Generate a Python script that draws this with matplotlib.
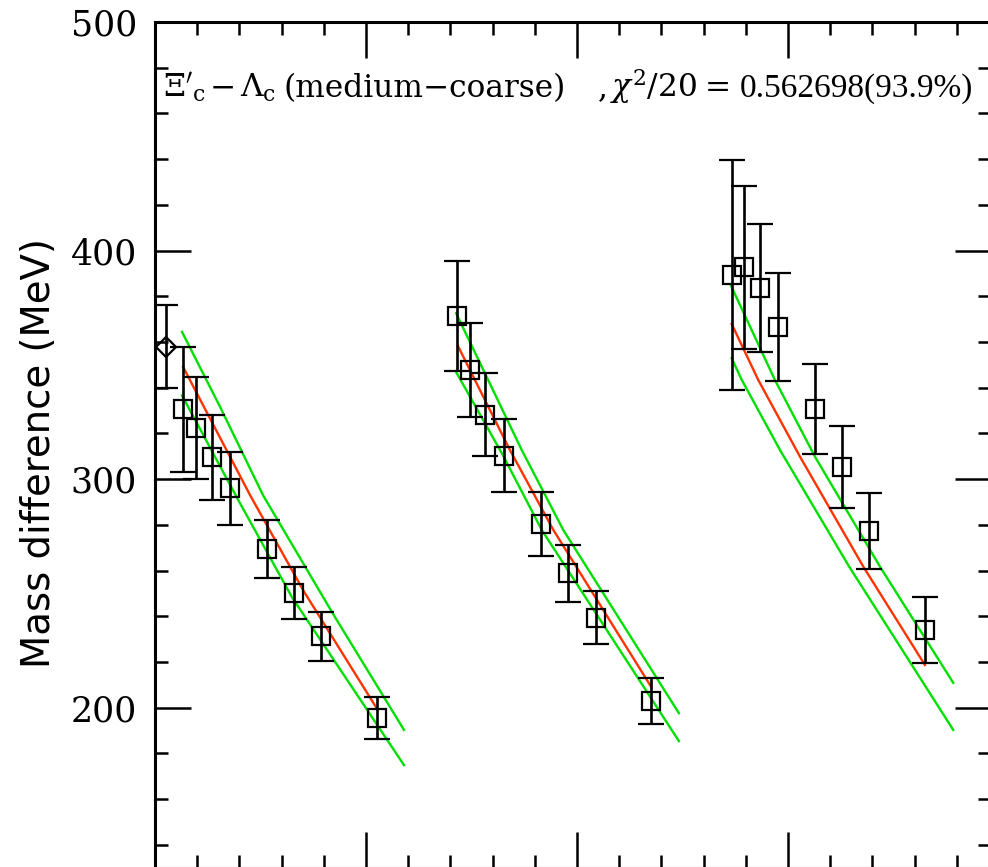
import matplotlib
matplotlib.use("Agg")
import matplotlib.pyplot as plt
from matplotlib.ticker import MultipleLocator

# ---------------- data ----------------
ref_x = [0.050]
ref_y = [358.0]
ref_err = [18.0]

g1_x = [0.133, 0.194, 0.269, 0.357, 0.532, 0.659, 0.788, 1.051]
g1_y = [330.6, 322.4, 309.5, 296.0, 269.4, 250.2, 231.2, 195.6]
g1_err = [27.3, 22.2, 18.6, 15.9, 12.7, 11.5, 10.6, 9.2]

g2_x = [1.433, 1.493, 1.564, 1.654, 1.828, 1.959, 2.089, 2.349]
g2_y = [371.2, 347.9, 328.2, 310.3, 280.4, 258.8, 239.4, 202.9]
g2_err = [24.1, 20.6, 18.1, 16.0, 13.9, 12.5, 11.6, 10.2]

g3_x = [2.733, 2.793, 2.866, 2.954, 3.128, 3.257, 3.386, 3.649]
g3_y = [389.3, 392.7, 383.6, 366.4, 330.7, 305.4, 277.2, 234.0]
g3_err = [50.4, 35.7, 27.9, 23.6, 19.8, 17.9, 16.7, 14.6]

# fit curves (central = red, error band = green)
fit1_red_x = [0.133, 0.450, 0.704, 1.051]
fit1_red_y = [349.1, 293.1, 251.1, 199.7]
fit1_up_x = [0.128, 0.308, 0.513, 0.844, 1.180]
fit1_up_y = [364.4, 331.7, 292.8, 241.0, 190.3]
fit1_lo_x = [0.128, 0.389, 0.650, 1.180]
fit1_lo_y = [336.6, 291.8, 248.2, 174.9]

fit2_red_x = [1.435, 1.682, 1.888, 2.351]
fit2_red_y = [358.4, 312.75, 277.75, 209.2]
fit2_up_x = [1.427, 1.738, 1.935, 2.483]
fit2_up_y = [372.6, 312.75, 277.75, 197.6]
fit2_lo_x = [1.427, 1.648, 1.833, 2.483]
fit2_lo_y = [346.9, 310.6, 277.75, 185.4]

fit3_red_x = [2.733, 2.859, 3.057, 3.357, 3.649]
fit3_red_y = [367.9, 343.4, 309.8, 261.7, 218.7]
fit3_up_x = [2.730, 2.938, 3.128, 3.436, 3.783]
fit3_up_y = [384.6, 343.4, 309.8, 261.7, 210.9]
fit3_lo_x = [2.733, 2.781, 2.962, 3.290, 3.783]
fit3_lo_y = [352.9, 343.4, 312.75, 261.7, 190.3]

# title pieces: (text, family, left px, size pt)
title_pieces = [
    (r"$\Xi'_{\rm c}$", "DejaVu Serif", 163, 22.5),
    ("\u2212", "DejaVu Serif", 210, 22.5),
    (r"$\Lambda_{\rm c}$", "DejaVu Serif", 240, 22.5),
    ("(medium\u2212coarse)", "DejaVu Serif", 284, 22.5),
    (",", "DejaVu Serif", 598, 22.5),
    (r"$\chi^2$/20", "DejaVu Serif", 610, 22.5),
    ("=", "DejaVu Serif", 705, 22.5),
    ("0.562698(93.9%)", "Liberation Serif", 740, 24.0),
]
ylabel_text = "Mass difference (MeV)"

plt.rcParams["mathtext.fontset"] = "dejavuserif"

W, H = 988, 867
fig = plt.figure(figsize=(W / 100, H / 100), dpi=100)
left_px, right_px, top_px, bot_px = 155, 991, 22, 867.7
ax = fig.add_axes([left_px / W, (H - bot_px) / H,
                   (right_px - left_px) / W, (bot_px - top_px) / H])
ax.set_xlim(0, (right_px - left_px) / 211.0)
ax.set_ylim(130, 500)

RED = "#ff3300"
GREEN = "#00e000"
for xs, ys in [(fit1_up_x, fit1_up_y), (fit1_lo_x, fit1_lo_y),
               (fit2_up_x, fit2_up_y), (fit2_lo_x, fit2_lo_y),
               (fit3_up_x, fit3_up_y), (fit3_lo_x, fit3_lo_y)]:
    ax.plot(xs, ys, color=GREEN, lw=1.7, zorder=3)
for xs, ys in [(fit1_red_x, fit1_red_y), (fit2_red_x, fit2_red_y),
               (fit3_red_x, fit3_red_y)]:
    ax.plot(xs, ys, color=RED, lw=1.7, zorder=3)

eb = dict(mfc="none", mec="black", ecolor="black", elinewidth=1.9,
          capsize=9.4, capthick=1.9, mew=1.6, zorder=4, ls="none")
for xs, ys, es in [(g1_x, g1_y, g1_err), (g2_x, g2_y, g2_err),
                   (g3_x, g3_y, g3_err)]:
    ax.errorbar(xs, ys, yerr=es, marker="s", ms=13, **eb)
ax.errorbar(ref_x, ref_y, yerr=ref_err, marker="D", ms=9.8,
            **dict(eb, capsize=8.5))

ax.xaxis.set_major_locator(MultipleLocator(1.0))
ax.xaxis.set_minor_locator(MultipleLocator(0.2))
ax.yaxis.set_major_locator(MultipleLocator(100))
ax.yaxis.set_minor_locator(MultipleLocator(20))
ax.tick_params(which="both", direction="in", top=True, right=True,
               width=1.8, labelbottom=False)
ax.tick_params(which="major", length=26, pad=13)
ax.tick_params(which="minor", length=9.5)
for lab in ax.get_yticklabels():
    lab.set_fontfamily("DejaVu Serif")
    lab.set_fontsize(25)
for s in ax.spines.values():
    s.set_linewidth(2.2)

base_y = 1 - 97.0 / H
for txt, fam, lpx, size in title_pieces:
    fig.text(lpx / W, base_y, txt, ha="left", va="baseline",
             fontfamily=fam, fontsize=size)

ylab = fig.text(39 / W, 1 - 453 / H, ylabel_text, ha="center", va="center",
                rotation=90, fontfamily="DejaVu Sans", fontsize=24)
fig.canvas.draw()
r = fig.canvas.get_renderer()
bb = ylab.get_window_extent(r)
ylab.set_fontsize(ylab.get_fontsize() * 430.0 / bb.height)

fig.savefig("out.png", dpi=100)
